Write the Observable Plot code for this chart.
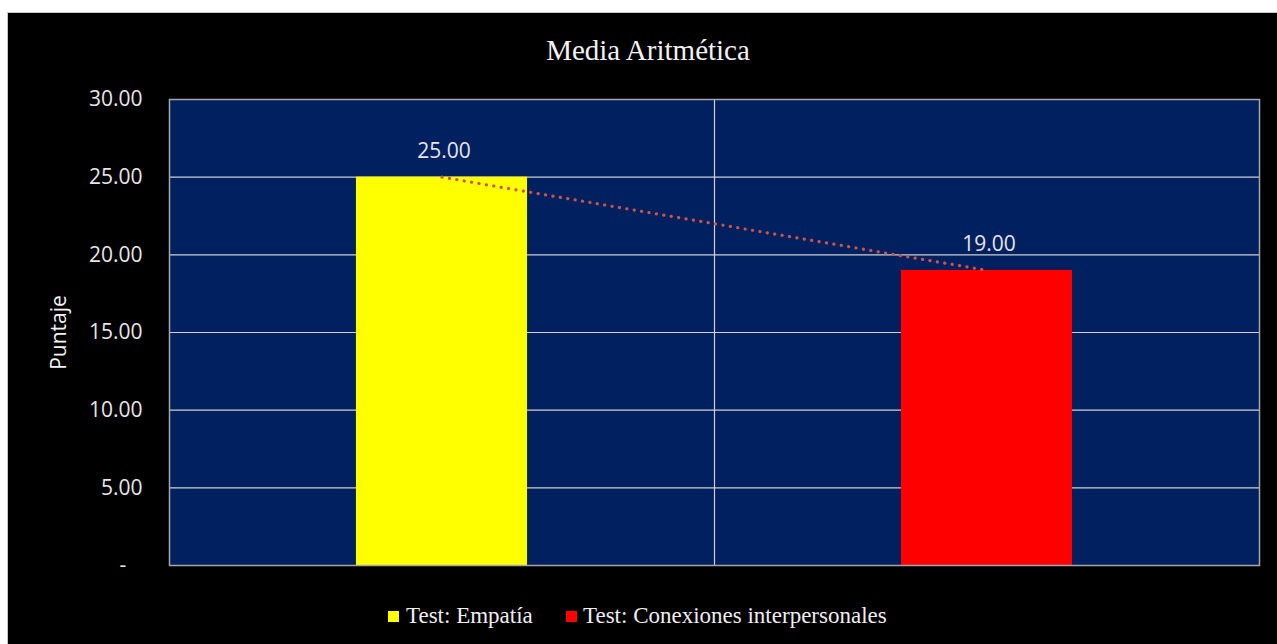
<!DOCTYPE html>
<html>
<head>
<meta charset="utf-8">
<script src="https://cdn.jsdelivr.net/npm/d3@7"></script>
<script src="https://cdn.jsdelivr.net/npm/@observablehq/plot@0.6"></script>
<style>
  html, body { margin: 0; padding: 0; background: #ffffff; width: 1277px; height: 644px; overflow: hidden; }
  #wrap { position: absolute; left: 7px; top: 12px; width: 1269px; height: 631px; background: #000; border-left: 1px solid #c8c8c8; border-top: 1px solid #c8c8c8; }
  #title { box-sizing: border-box; width: 1269px; height: 72px; padding-top: 21px; padding-left: 11px; text-align: center; font-family: "Liberation Serif", serif; font-size: 29px; line-height: 32px; color: #f2f2f2; }
  #chart svg { display: block; }
  #legend { position: relative; height: 54px; font-family: "Liberation Serif", serif; font-size: 23px; line-height: 28px; color: #eeeeee; }
  #legend .sw { position: absolute; width: 11px; height: 11px; top: 21px; }
  #legend .tx { position: absolute; top: 12px; white-space: nowrap; }
</style>
</head>
<body>
<div id="wrap">
  <div id="title">Media Aritmética</div>
  <div id="chart"></div>
  <div id="legend"></div>
</div>
<script>
const categories = ["Test: Empatía", "Test: Conexiones interpersonales"];
const values = [25, 19];
const colors = ["#ffff00", "#ff0000"];
const yTicks = [0, 5, 10, 15, 20, 25, 30];
const yLabel = "Puntaje";

const data = categories.map((c, i) => ({cat: c, val: values[i], color: colors[i]}));

const W = 1269, H = 505, mL = 161, mR = 18, mT = 14, mB = 25;
const band = (W - mL - mR) / categories.length;
const inset = band * 0.343;

const fmt = v => v === 0 ? "-\u00a0\u00a0\u00a0" : d3.format(".2f")(v);

const chart = Plot.plot({
  width: W, height: H,
  marginLeft: mL, marginRight: mR, marginTop: mT, marginBottom: mB,
  style: {background: "transparent", fontFamily: "'Open Sans', sans-serif", fontSize: "21px", color: "#e6e6e6"},
  x: {domain: categories, padding: 0, axis: null},
  y: {domain: [0, 30], ticks: yTicks, tickFormat: fmt, tickSize: 0, tickPadding: 27, label: null},
  marks: [
    Plot.frame({fill: "#002060", stroke: null}),
    Plot.ruleY(yTicks.filter(t => t > 0), {stroke: "#d0d0d0", strokeWidth: 1.2}),
    Plot.ruleX([categories[1]], {dx: -band / 2, stroke: "#d0d0d0", strokeWidth: 1.2}),
    Plot.barY(data, {x: "cat", y: "val", fill: "color", insetLeft: inset, insetRight: inset}),
    Plot.line(data, {x: "cat", y: "val", stroke: "#c9564c", strokeWidth: 3.2, strokeDasharray: "0.1 7.4", strokeLinecap: "round"}),
    Plot.text(data, {x: "cat", y: "val", text: d => d3.format(".2f")(d.val), dy: -26, dx: 2, fill: "#e6e6e6", fontSize: 21, textAnchor: "middle", lineAnchor: "middle"}),
    Plot.frame({stroke: "#a6a6a6", strokeWidth: 1.5}),
    Plot.text([yLabel], {frameAnchor: "left", dx: -110, rotate: -90, fill: "#f2f2f2", fontSize: 21, textAnchor: "middle", lineAnchor: "middle"})
  ]
});
document.getElementById("chart").appendChild(chart);

const legend = document.getElementById("legend");
const pos = [[380, 398], [558, 575]];
categories.forEach((c, i) => {
  const sw = document.createElement("div");
  sw.className = "sw"; sw.style.left = pos[i][0] + "px"; sw.style.background = colors[i];
  const tx = document.createElement("div");
  tx.className = "tx"; tx.style.left = pos[i][1] + "px"; tx.textContent = c;
  legend.appendChild(sw); legend.appendChild(tx);
});
</script>
</body>
</html>
